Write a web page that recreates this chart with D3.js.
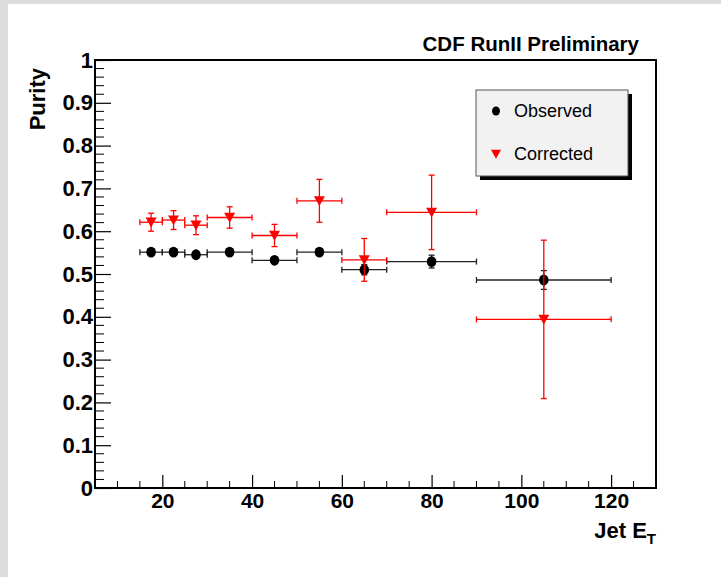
<!DOCTYPE html>
<html>
<head>
<meta charset="utf-8">
<script src="https://cdn.jsdelivr.net/npm/d3@7"></script>
<style>
  html, body { margin: 0; padding: 0; background: #ffffff; }
  svg { display: block; }
  text { font-family: "Liberation Sans", Arial, Helvetica, sans-serif; }
</style>
</head>
<body>
<svg id="chart" width="721" height="577"></svg>
<script>
// Bin centres and half-widths in jet E_T (GeV)
const jetEt      = [17.5, 22.5, 27.5, 35, 45, 55, 65, 80, 105];
const binHalf    = [2.5, 2.5, 2.5, 5, 5, 5, 5, 10, 15];

// Observed purity and its uncertainty
const observed    = [0.551, 0.551, 0.545, 0.551, 0.532, 0.551, 0.510, 0.529, 0.486];
const observedErr = [0.006, 0.006, 0.006, 0.006, 0.006, 0.006, 0.012, 0.015, 0.022];

// Corrected purity and its uncertainty
const corrected    = [0.621, 0.626, 0.614, 0.632, 0.590, 0.671, 0.533, 0.644, 0.394];
const correctedErr = [0.021, 0.022, 0.022, 0.025, 0.026, 0.050, 0.050, 0.087, 0.185];

const xTickValues = [20, 40, 60, 80, 100, 120];
const yTickValues = [0, 0.1, 0.2, 0.3, 0.4, 0.5, 0.6, 0.7, 0.8, 0.9, 1];

const svg = d3.select("#chart");

// Canvas surround
svg.append("rect").attr("x", 0).attr("y", 0).attr("width", 721).attr("height", 577).attr("fill", "#dcdcdc");
svg.append("rect").attr("x", 8).attr("y", 4).attr("width", 713).attr("height", 573).attr("fill", "#ffffff");

const frame = { left: 95, right: 656, top: 60, bottom: 488 };

const x = d3.scaleLinear().domain([5, 130]).range([frame.left, frame.right]);
const y = d3.scaleLinear().domain([0, 1]).range([frame.bottom, frame.top]);

// Frame
svg.append("rect")
  .attr("x", frame.left).attr("y", frame.top)
  .attr("width", frame.right - frame.left).attr("height", frame.bottom - frame.top)
  .attr("fill", "none").attr("stroke", "#000").attr("stroke-width", 2);

// Minor ticks along both axes (inward, ROOT style)
const xMinor = d3.range(10, 130, 5).filter(v => v % 20 !== 0);
svg.append("g").selectAll("line").data(xMinor).join("line")
  .attr("x1", d => x(d)).attr("x2", d => x(d))
  .attr("y1", frame.bottom).attr("y2", frame.bottom - 7)
  .attr("stroke", "#000").attr("stroke-width", 1);

const yMinor = d3.range(0, 1.0001, 0.02).filter(v => Math.abs(v * 10 - Math.round(v * 10)) > 1e-6);
svg.append("g").selectAll("line").data(yMinor).join("line")
  .attr("x1", frame.left).attr("x2", frame.left + 9)
  .attr("y1", d => y(d)).attr("y2", d => y(d))
  .attr("stroke", "#000").attr("stroke-width", 1);

// Major axes
const xAxis = d3.axisBottom(x).tickValues(xTickValues).tickSizeInner(-13).tickSizeOuter(0).tickPadding(5)
  .tickFormat(d3.format("d"));
const gx = svg.append("g").attr("transform", `translate(0,${frame.bottom})`).call(xAxis);
gx.select(".domain").remove();
gx.selectAll("line").attr("stroke", "#000").attr("stroke-width", 1.2);
gx.selectAll("text").attr("font-size", 21).attr("font-weight", "bold").attr("fill", "#000");

const yAxis = d3.axisLeft(y).tickValues(yTickValues).tickSizeInner(-16).tickSizeOuter(0).tickPadding(3)
  .tickFormat(d => d === 0 ? "0" : d === 1 ? "1" : d3.format(".1f")(d));
const gy = svg.append("g").attr("transform", `translate(${frame.left},0)`).call(yAxis);
gy.select(".domain").remove();
gy.selectAll("line").attr("stroke", "#000").attr("stroke-width", 1.2);
gy.selectAll("text").attr("font-size", 22).attr("font-weight", "bold").attr("fill", "#000")
  .attr("x", -2);

// Axis titles
svg.append("text")
  .attr("transform", `translate(45,${frame.top + 8}) rotate(-90)`)
  .attr("text-anchor", "end")
  .attr("font-size", 22).attr("font-weight", "bold")
  .text("Purity");

const xTitle = svg.append("text")
  .attr("x", frame.right).attr("y", 538)
  .attr("text-anchor", "end")
  .attr("font-size", 22).attr("font-weight", "bold");
xTitle.append("tspan").text("Jet E");
xTitle.append("tspan").attr("font-size", 15).attr("dy", 6).text("T");

// Header
svg.append("text")
  .attr("x", 639).attr("y", 51)
  .attr("text-anchor", "end")
  .attr("font-size", 20.5).attr("font-weight", "bold")
  .text("CDF RunII Preliminary");

// Error bars with end caps
function drawErrors(values, errs, color, cap) {
  const g = svg.append("g");
  const idx = d3.range(values.length);
  g.selectAll("line.h").data(idx).join("line").attr("class", "h")
    .attr("x1", i => x(jetEt[i] - binHalf[i])).attr("x2", i => x(jetEt[i] + binHalf[i]))
    .attr("y1", i => y(values[i])).attr("y2", i => y(values[i]))
    .attr("stroke", color).attr("stroke-width", 1.3);
  g.selectAll("line.hl").data(idx).join("line").attr("class", "hl")
    .attr("x1", i => x(jetEt[i] - binHalf[i])).attr("x2", i => x(jetEt[i] - binHalf[i]))
    .attr("y1", i => y(values[i]) - cap).attr("y2", i => y(values[i]) + cap)
    .attr("stroke", color).attr("stroke-width", 1.3);
  g.selectAll("line.hr").data(idx).join("line").attr("class", "hr")
    .attr("x1", i => x(jetEt[i] + binHalf[i])).attr("x2", i => x(jetEt[i] + binHalf[i]))
    .attr("y1", i => y(values[i]) - cap).attr("y2", i => y(values[i]) + cap)
    .attr("stroke", color).attr("stroke-width", 1.3);
  g.selectAll("line.v").data(idx).join("line").attr("class", "v")
    .attr("x1", i => x(jetEt[i])).attr("x2", i => x(jetEt[i]))
    .attr("y1", i => y(values[i] - errs[i])).attr("y2", i => y(values[i] + errs[i]))
    .attr("stroke", color).attr("stroke-width", 1.3);
  g.selectAll("line.vt").data(idx).join("line").attr("class", "vt")
    .attr("x1", i => x(jetEt[i]) - cap).attr("x2", i => x(jetEt[i]) + cap)
    .attr("y1", i => y(values[i] + errs[i])).attr("y2", i => y(values[i] + errs[i]))
    .attr("stroke", color).attr("stroke-width", 1.3);
  g.selectAll("line.vb").data(idx).join("line").attr("class", "vb")
    .attr("x1", i => x(jetEt[i]) - cap).attr("x2", i => x(jetEt[i]) + cap)
    .attr("y1", i => y(values[i] - errs[i])).attr("y2", i => y(values[i] - errs[i]))
    .attr("stroke", color).attr("stroke-width", 1.3);
}

const triangle = s => `M${-s},${-s * 0.85} L${s},${-s * 0.85} L0,${s * 0.95} Z`;

drawErrors(observed, observedErr, "#222", 3);
svg.append("g").selectAll("ellipse").data(d3.range(observed.length)).join("ellipse")
  .attr("cx", i => x(jetEt[i])).attr("cy", i => y(observed[i]))
  .attr("rx", 4.8).attr("ry", 5.4).attr("fill", "#000");

drawErrors(corrected, correctedErr, "#ff0000", 3);
svg.append("g").selectAll("path").data(d3.range(corrected.length)).join("path")
  .attr("transform", i => `translate(${x(jetEt[i])},${y(corrected[i])})`)
  .attr("d", triangle(5.5)).attr("fill", "#ff0000");

// Legend
const lg = svg.append("g");
lg.append("rect").attr("x", 480).attr("y", 94).attr("width", 152).attr("height", 86).attr("fill", "#000");
lg.append("rect").attr("x", 476).attr("y", 90).attr("width", 152).attr("height", 86)
  .attr("fill", "#f2f2f2").attr("stroke", "#555").attr("stroke-width", 1);
lg.append("ellipse").attr("cx", 496).attr("cy", 111).attr("rx", 4).attr("ry", 4.6).attr("fill", "#000");
lg.append("path").attr("transform", "translate(496,154)").attr("d", triangle(5)).attr("fill", "#ff0000");
lg.append("text").attr("x", 514).attr("y", 117).attr("font-size", 18).text("Observed");
lg.append("text").attr("x", 514).attr("y", 160).attr("font-size", 18).text("Corrected");
</script>
</body>
</html>
